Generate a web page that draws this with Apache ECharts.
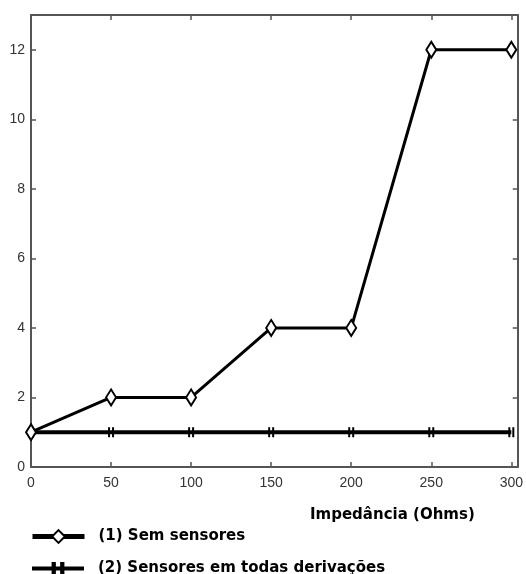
<!DOCTYPE html>
<html>
<head>
<meta charset="utf-8">
<script src="https://cdn.jsdelivr.net/npm/echarts@6/dist/echarts.min.js"></script>
<style>
  html, body { margin: 0; padding: 0; background: #fff; }
  #chart { width: 526px; height: 574px; }
</style>
</head>
<body>
<div id="chart"></div>
<script>
// dados
const impedancia = [0, 50, 100, 150, 200, 250, 300];
const semSensores = [1, 2, 2, 4, 4, 12, 12];
const sensoresTodas = [1, 1, 1, 1, 1, 1, 1];
const xTicks = [0, 50, 100, 150, 200, 250, 300];
const yTicks = [0, 2, 4, 6, 8, 10, 12];
const nomes = ['(1) Sem sensores', '(2) Sensores em todas derivações'];

const AXIS = '#555';
const LABEL = { color: '#333', fontSize: 14, fontFamily: 'Liberation Sans, Arial, sans-serif' };
const BOLD = { color: '#000', fontSize: 15, fontWeight: 900, fontFamily: 'DejaVu Sans, sans-serif' };
const BARS = 'path://M0,0h2v10h-2z M4,0h2v10h-2z';

function frameAxis(extra) {
  return Object.assign({
    type: 'value', min: 0,
    axisLine: { show: true, onZero: false, lineStyle: { color: AXIS, width: 2 } },
    axisTick: { show: true, inside: true, length: 5, lineStyle: { color: AXIS, width: 1.5 } },
    splitLine: { show: false },
  }, extra);
}
const pick = (list) => (v) => list.includes(v) ? String(v) : '';

function legendRow(name, top, width) {
  return {
    data: [name], left: 25, top, itemWidth: 52, itemHeight: 16, selectedMode: false,
    lineStyle: { width },
    textStyle: Object.assign({}, BOLD, { padding: [0, 0, 0, 9] }),
  };
}

const chart = echarts.init(document.getElementById('chart'), null, { renderer: 'canvas' });
chart.setOption({
  animation: false,
  backgroundColor: '#fff',
  grid: { left: 31, right: 6, top: 15, bottom: 107 },
  title: { text: 'Impedância (Ohms)', left: 305, top: 503, textStyle: Object.assign({}, BOLD, { fontSize: 15 }) },
  legend: [legendRow(nomes[0], 524, 5), legendRow(nomes[1], 556, 4)],
  xAxis: [
    frameAxis({ max: 304, interval: 50, position: 'bottom',
      axisLabel: Object.assign({}, LABEL, { margin: 9, formatter: pick(xTicks) }) }),
    frameAxis({ max: 304, interval: 50, position: 'top', axisLabel: { show: false } }),
  ],
  yAxis: [
    frameAxis({ max: 13, interval: 2, position: 'left',
      axisLabel: Object.assign({}, LABEL, { margin: 6, formatter: pick(yTicks) }) }),
    frameAxis({ max: 13, interval: 2, position: 'right', axisLabel: { show: false } }),
  ],
  series: [
    {
      name: nomes[1], type: 'line', data: impedancia.map((x, i) => [x, sensoresTodas[i]]),
      symbol: BARS, symbolSize: [6, 10], z: 2,
      lineStyle: { color: '#000', width: 4 }, itemStyle: { color: '#000' },
    },
    {
      name: nomes[0], type: 'line', data: impedancia.map((x, i) => [x, semSensores[i]]),
      symbol: 'diamond', symbolSize: [10, 16], z: 3,
      lineStyle: { color: '#000', width: 3 },
      itemStyle: { color: '#fff', borderColor: '#000', borderWidth: 2 },
    },
  ],
});
</script>
</body>
</html>
